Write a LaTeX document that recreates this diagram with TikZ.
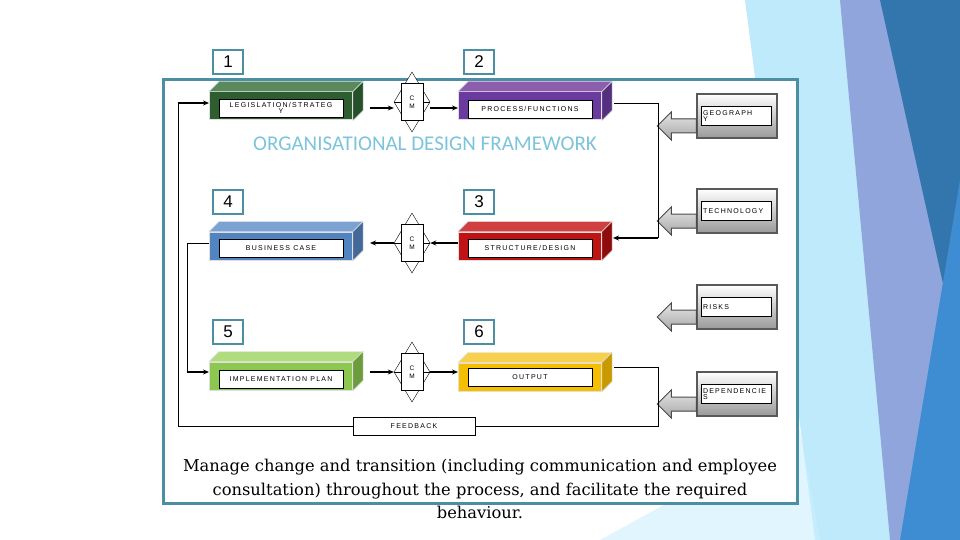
\documentclass[tikz,border=0pt]{standalone}
\usepackage{fontspec}
\setmainfont{Liberation Sans}
\newfontfamily\capfont{DejaVu Serif}
\newfontfamily\titfont{Carlito}
\newfontfamily\lblfont{Liberation Sans}[LetterSpace=18]
\usetikzlibrary{arrows.meta,shapes.geometric}
\definecolor{frameC}{HTML}{4C8FA3}
\definecolor{titC}{HTML}{7CC4DC}
\definecolor{g1}{HTML}{2E5E30}\definecolor{g1t}{HTML}{5A8A5C}\definecolor{g1s}{HTML}{24502A}
\definecolor{p1}{HTML}{6A3A9E}\definecolor{p1t}{HTML}{8E5EAE}\definecolor{p1s}{HTML}{54307E}
\definecolor{bb}{HTML}{5384C2}\definecolor{bbt}{HTML}{7CA2D2}\definecolor{bbs}{HTML}{44689A}
\definecolor{rr}{HTML}{C01414}\definecolor{rrt}{HTML}{D04040}\definecolor{rrs}{HTML}{8E0C0C}
\definecolor{lg}{HTML}{8CC850}\definecolor{lgt}{HTML}{B0DC80}\definecolor{lgs}{HTML}{6C9C3C}
\definecolor{yy}{HTML}{F5BE00}\definecolor{yyt}{HTML}{F8D050}\definecolor{yys}{HTML}{C89A00}
\newcommand\cubebox[7]{% name, center, front, top, side, label, labelshift
  \node[fill=#3, draw=gray!25, line width=1pt, minimum width=143pt, minimum height=28pt, inner sep=0] (#1) at #2 {};
  \fill[#4, draw=gray!25] (#1.north west) -- ++(10,-10) -- ([xshift=10pt,yshift=10pt]#1.north east) -- (#1.north east) -- cycle;
  \fill[#5, draw=gray!25] (#1.north east) -- ++(10,-10) -- ([xshift=10pt,yshift=10pt]#1.south east) -- (#1.south east) -- cycle;
  \node[lbl, minimum width=124pt, align=center] (#1l) at ([yshift=#7]#1.center) {#6};
}
\newcommand\cm[2]{%
  \node[draw, diamond, minimum width=36pt, minimum height=60pt, inner sep=0, fill=white] (#1) at #2 {};
  \draw (#1.west) -- (#1.east);
  \node[draw, fill=white, minimum width=22pt, minimum height=37pt, inner sep=0, font=\fontsize{6.5}{8}\selectfont, align=center] (#1r) at #2 {C\\M};
}
\newcommand\numbox[3]{%
  \node[draw=frameC, line width=2.5pt, fill=white, minimum width=30pt, minimum height=24pt, inner sep=0, font=\fontsize{17}{17}\selectfont] (#1) at #2 {#3};
}
\newcommand\factor[3]{% name, center of box, label
  \node[draw=gray!70!black, line width=1.5pt, top color=white, bottom color=gray!80, minimum width=80pt, minimum height=44pt] (#1) at #2 {};
  \node[lbl, minimum width=70pt, minimum height=19pt, text width=66pt, align=left] (#1l) at ([xshift=-1pt]#1.center) {#3};
  \fill[top color=gray!20, bottom color=gray!70, draw=gray!60!black, line width=1pt] ([yshift=-3pt]#1.west) -- ++(-25,0) -- ++(0,-7) -- ++(-14,14) -- ++(14,14) -- ++(0,-7) -- ++(25,0) -- cycle;
}
\tikzset{lbl/.style={draw, fill=white, minimum height=18pt, inner sep=1pt, font=\lblfont\fontsize{7}{6}\selectfont},
  arr/.style={-{Stealth[length=6pt,width=5pt]}, line width=1.5pt},
  ln/.style={line width=0.8pt}}
\begin{document}
\begin{tikzpicture}[x=1pt,y=-1pt]
\useasboundingbox (0,0) rectangle (960,540);
\fill[white] (0,0) rectangle (960,540);
\fill[cyan!25] (745,0) -- (960,0) -- (960,540) -- (815,540) -- cycle;
\fill[cyan!40!blue!45!white] (840,0) -- (960,0) -- (960,540) -- (890,540) -- cycle;
\fill[blue!45!cyan!60!black!80] (880,0) -- (960,0) -- (960,360) -- cycle;
\fill[cyan!60!blue!80] (960,180) -- (960,540) -- (900,540) -- cycle;
\fill[cyan!20,opacity=.6] (600,540) -- (800,430) -- (820,540) -- cycle;
\draw[frameC, line width=3pt, fill=white] (163,80) rectangle (797,503);
\node[text=titC, font=\titfont\fontsize{21}{21}\selectfont] (title) at (425,144) {ORGANISATIONAL DESIGN FRAMEWORK};
\numbox{n1}{(228,62)}{1}\numbox{n2}{(479,62)}{2}
\numbox{n4}{(228,202)}{4}\numbox{n3}{(479,202)}{3}
\numbox{n5}{(228,332)}{5}\numbox{n6}{(479,332)}{6}
\cubebox{b1}{(281,106)}{g1}{g1t}{g1s}{LEGISLATION/STRATEG\\Y}{-2pt}
\cubebox{b2}{(530,106)}{p1}{p1t}{p1s}{PROCESS/FUNCTIONS}{-3pt}
\cubebox{b4}{(281,246)}{bb}{bbt}{bbs}{BUSINESS CASE}{-2pt}
\cubebox{b3}{(530,246)}{rr}{rrt}{rrs}{STRUCTURE/DESIGN}{-2pt}
\cubebox{b5}{(281,376)}{lg}{lgt}{lgs}{IMPLEMENTATION PLAN}{-3pt}
\cubebox{b6}{(530,377)}{yy}{yyt}{yys}{OUTPUT}{0pt}
\cm{c1}{(412,102)}\cm{c2}{(412,243)}\cm{c3}{(412,372)}
\draw[arr] (370,108) -- (c1.west|-0,108);
\draw[arr] (c1.east|-0,108) -- (b2.west|-0,108);
\draw[arr] (b3.west|-0,243) -- (c2.east|-0,243);
\draw[arr] (c2.west|-0,243) -- (370,243);
\draw[arr] (370,372) -- (c3.west|-0,372);
\draw[arr] (c3.east|-0,372) -- (b6.west|-0,372);
\factor{f1}{(737,116)}{GEOGRAPH\\Y}
\factor{f2}{(737,211)}{TECHNOLOGY}
\factor{f3}{(737,307)}{RISKS}
\factor{f4}{(737,394)}{DEPENDENCIE\\S}
\node[draw, fill=white, minimum width=122pt, minimum height=18pt, inner sep=0, font=\lblfont\fontsize{7}{6}\selectfont] (fb) at (414,426) {FEEDBACK};
\coordinate (p1) at (658,103);
\draw[ln] (614,103) -- (p1) -- (658,238);
\draw[arr] (658,238) -- (613,238);
\draw[ln] (614,367) -- (658,367) -- (658,426) -- (fb.east);
\draw[ln] (fb.west) -- (178,426) -- (178,103);
\draw[arr] (177.6,103) -- (b1.west|-0,103);
\draw[ln] (b4.west|-0,243) -- (187,243) -- (187,372);
\draw[arr] (186.6,372) -- (b5.west|-0,372);
\node[font=\capfont\fontsize{16.3}{23.5}\selectfont, align=center] (cap) at (480,489) {Manage change and transition (including communication and employee\\consultation) throughout the process, and facilitate the required\\behaviour.};
\end{tikzpicture}
\end{document}
